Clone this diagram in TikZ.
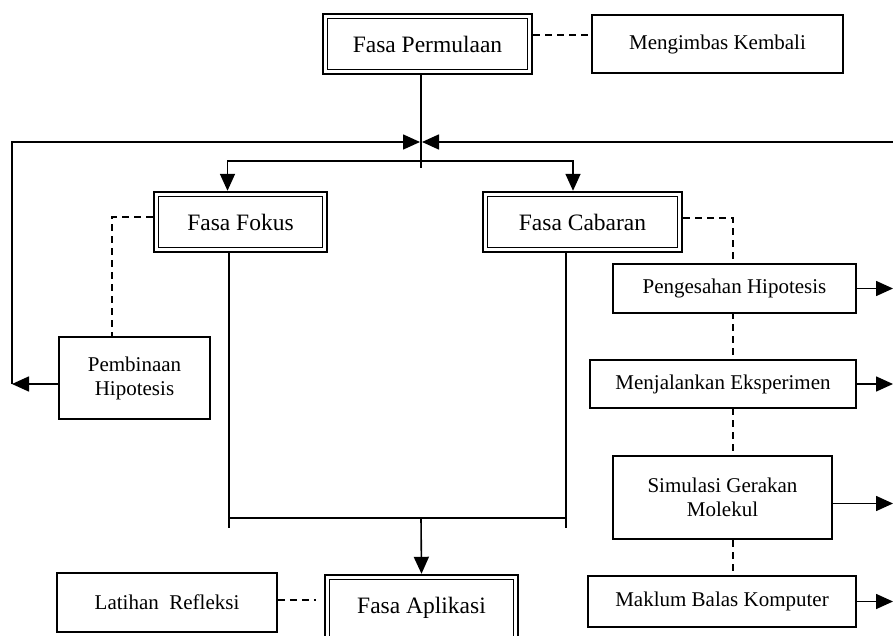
\documentclass[tikz,border=0pt]{standalone}
\usepackage{fontspec}
\setmainfont{Liberation Serif}
\usetikzlibrary{arrows.meta,backgrounds}

\begin{document}
\begin{tikzpicture}[x=1pt,y=-1pt,>={Triangle[length=17pt,width=15pt]},line width=1.6pt]
  \tikzstyle{phase}=[draw,line width=2.4pt,fill=white,inner sep=0pt,
                     font=\fontsize{23.5}{27}\selectfont,
                     path picture={\draw[line width=1.2pt]
                       ([shift={(4.5pt,4.5pt)}]path picture bounding box.south west) rectangle
                       ([shift={(-4.5pt,-4.5pt)}]path picture bounding box.north east);}]
  \tikzstyle{activity}=[draw,line width=1.6pt,fill=white,inner sep=0pt,align=center,
                        font=\fontsize{21}{24}\selectfont]
  \tikzstyle{link}=[dash pattern=on 7pt off 5pt,line width=1.2pt]
  \path[use as bounding box] (0,0) rectangle (893,636);

  % main phases
  \node [phase,minimum width=209pt,minimum height=60pt] (perm) at (427.5,44) {Fasa Permulaan};
  \node [phase,minimum width=173pt,minimum height=60pt] (fokus) at (240.5,222) {Fasa Fokus};
  \node [phase,minimum width=199pt,minimum height=60pt] (cabaran) at (582.5,222) {Fasa Cabaran};
  \node [phase,minimum width=193pt,minimum height=66pt] (aplikasi) at (421.5,608) {Fasa Aplikasi};

  % activities
  \node [activity,minimum width=251pt,minimum height=58pt] (meng) at (717.5,44) {Mengimbas Kembali};
  \node [activity,minimum width=151pt,minimum height=82pt] (pembinaan) at (134.5,378) {Pembinaan\\Hipotesis};
  \node [activity,minimum width=220pt,minimum height=59pt] (latihan) at (167,602.5) {Latihan\enspace Refleksi};
  \node [activity,minimum width=243pt,minimum height=49pt] (pengesahan) at (734.5,288.5) {Pengesahan Hipotesis};
  \node [activity,minimum width=266pt,minimum height=48pt] (menjalankan) at (723,384) {Menjalankan Eksperimen};
  \node [activity,minimum width=219pt,minimum height=83pt] (simulasi) at (722.5,497.5) {Simulasi Gerakan\\Molekul};
  \node [activity,minimum width=268pt,minimum height=51pt] (maklum) at (722,601.5) {Maklum Balas Komputer};

  \coordinate (hub) at (421,142);
  \coordinate (tail) at (421,168);
  \coordinate (split) at (421,161);
  \coordinate (lcorner) at (12,384);
  \coordinate (ltop) at (12,142);
  \coordinate (rtop) at (893,142);
  \coordinate (redge) at (893,0);
  \coordinate (fokusend) at (229,528);
  \coordinate (cabaranend) at (566,528);
  \coordinate (merge) at (421,518);
  \coordinate (refend) at (316,600);
  \coordinate (dashx) at (733,218);

  % dashed links
  \draw [link] ([yshift=9pt]perm.east) -- ([yshift=9pt]meng.west);
  \draw [link] ([yshift=5pt]fokus.west) -| ([xshift=-22.5pt]pembinaan.north);
  \draw [link] (latihan.east |- refend) -- (refend);
  \begin{scope}[on background layer]
    \fill [white] (0,0) rectangle (893,636);
    \draw [link] (cabaran.east |- dashx) -- (dashx) -- (dashx |- maklum.north);
  \end{scope}

  % flow
  \draw (perm.south -| hub) -- (tail);
  \draw [->] (pembinaan.west |- lcorner) -- (lcorner);
  \draw [->] (lcorner) -- (ltop) -- ([xshift=-1pt]hub);
  \draw [->] (rtop) -- ([xshift=1pt]hub);
  \draw [->] (split) -| ([xshift=-13pt]fokus.north);
  \draw [->] (split) -| ([xshift=-9.5pt]cabaran.north);
  \draw (fokus.south -| fokusend) -- (fokusend);
  \draw (cabaran.south -| cabaranend) -- (cabaranend);
  \draw (merge -| fokusend) -- (merge -| cabaranend);
  \draw [->] (merge) -- (aplikasi.north);

  \draw [->] (pengesahan.east) -- (pengesahan.east -| redge);
  \draw [->] (menjalankan.east) -- (menjalankan.east -| redge);
  \draw [->] ([yshift=-6pt]simulasi.east) -- ([yshift=-6pt]simulasi.east -| redge);
  \draw [->] (maklum.east) -- (maklum.east -| redge);
\end{tikzpicture}
\end{document}
